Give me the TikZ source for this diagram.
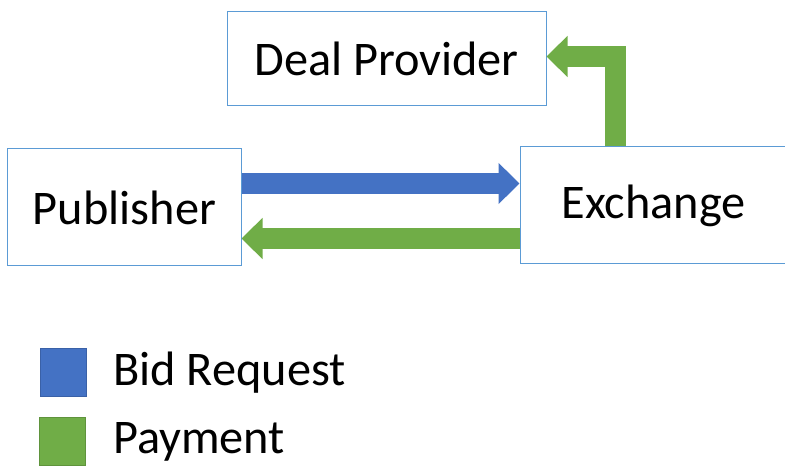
\documentclass[tikz,border=0pt]{standalone}
\usepackage{fontspec}
\setmainfont{Carlito}
\usetikzlibrary{arrows.meta,calc}

\definecolor{boxline}{HTML}{5B9BD5}
\definecolor{bidblue}{HTML}{4472C4}
\definecolor{paygreen}{HTML}{70AD47}

\tikzset{
  party/.style={draw=boxline, line width=1bp, fill=white, inner sep=0pt,
    font=\fontsize{48.5}{56}\selectfont},
  flow/.style={line width=21bp, line cap=butt, line join=miter,
    -{Triangle[length=21bp, width=40bp]}},
  swatch/.style={inner sep=0pt, minimum width=46bp, minimum height=48bp},
  legendtext/.style={anchor=west, inner sep=0pt, font=\fontsize{48.5}{56}\selectfont}
}

\begin{document}
\begin{tikzpicture}[x=1bp,y=-1bp]
		\useasboundingbox (0,0) rectangle (785,466);

		\node [party, minimum width=319bp, minimum height=94bp] (deal) at (386.5, 58.5) {Deal Provider};
		\node [party, minimum width=233bp, minimum height=117bp] (pub) at (124.5, 207.5) {Publisher};
		\node [party, minimum width=267bp, minimum height=117bp] (exch) at (653.5, 205.5) {Exchange};

		\draw [flow, bidblue] ([yshift=24bp]pub.east) to ([yshift=24bp]pub.east -| exch.west);
		\draw [flow, paygreen] ([yshift=-33bp]exch.west) to ([yshift=-33bp]exch.west -| pub.east);
		\draw [flow, paygreen] (exch.north -| 615, 0) |- ($(deal.east)+(0,-2)$);

		% legend
		\node [swatch, fill=bidblue, draw=bidblue!85!black] (bidkey) at (63, 372.5) {};
		\node [swatch, fill=paygreen, draw=paygreen!85!black] (paykey) at (62, 441.5) {};
		\node [legendtext] (bidtext) at (113, 373) {Bid Request};
		\node [legendtext] (paytext) at (113, 442) {Payment};
\end{tikzpicture}
\end{document}
